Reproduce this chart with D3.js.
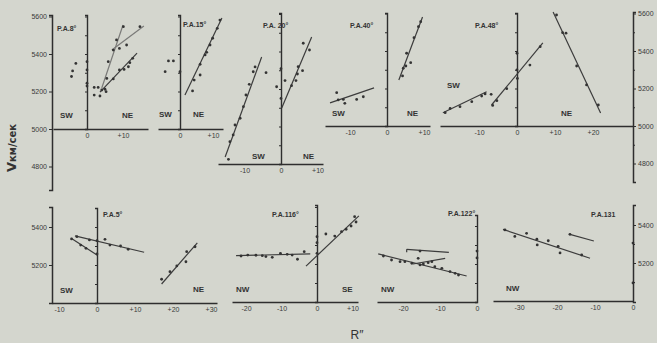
<!DOCTYPE html>
<html><head><meta charset="utf-8">
<script src="https://cdn.jsdelivr.net/npm/d3@7"></script>
<style>body{margin:0;background:#d4d6ce;} svg{display:block;font-family:"Liberation Sans",Arial,sans-serif;}</style>
</head><body><script>
// ---------- DATA (R in arcsec, V in km/s) ----------
const yTicksTop = [4800, 5000, 5200, 5400, 5600];
const yTicksBottom = [5200, 5400];

const pa8XTicks = [0, 10];
const pa8Points = [[-3.1,5350],[-4.0,5310],[-4.3,5280],[0,5359],[0,5315],[0,5244],[0,5229],[2.0,5222],[2.0,5181],[3.6,5176],[4.1,5208],[5.0,5212],[5.3,5199],[3.1,5222],[7.3,5267],[9.0,5315],[10.3,5318],[11.9,5354],[12.7,5377],[11.5,5332],[7.3,5421],[9.0,5430],[11.0,5448],[8.2,5475],[5.9,5359],[5.5,5270],[10.1,5546],[14.7,5546]];
const pa8Lines = [[4.1,5219,10.0,5555],[6.9,5421,15.8,5549],[3.6,5197,13.9,5405]];

const pa15XTicks = [0, 10];
const pa15Points = [[3.8,5203],[4.3,5261],[6.1,5288],[6.1,5345],[7.6,5395],[8.1,5409],[9.1,5448],[9.9,5484],[11.3,5537],[12.1,5581],[-4.5,5306],[-3.5,5363],[-2.0,5363],[0,5306]];
const pa15Lines = [[1.5,5181,12.7,5592]];

const pa20XTicks = [-10, 0, 10];
const pa20Points = [[-14.4,4825],[-14.0,4919],[-13.1,4955],[-12.6,5008],[-11.2,5044],[-10.3,5106],[-9.6,5168],[-8.7,5225],[-7.6,5292],[-7.1,5318],[-4.1,5287],[1.1,5245],[2.9,5218],[4.1,5245],[4.5,5280],[4.7,5319],[5.9,5298],[6.1,5444],[7.8,5408],[-1.2,5212],[0,5308],[0,5150]];
const pa20Lines = [[-15.3,4837,-5.3,5371],[0.2,5099,8.4,5477]];

const pa40XTicks = [-10, 0, 10];
const pa40Points = [[-13.6,5178],[-13.2,5139],[-11.8,5142],[-11.4,5121],[-8.2,5142],[-6.4,5156],[4.2,5267],[4.4,5308],[5.3,5388],[6.4,5338],[5.1,5320],[7.3,5471],[8.5,5530],[9.1,5556]];
const pa40Lines = [[-15.4,5123,-3.5,5203],[3.2,5245,9.6,5581]];

const pa48XTicks = [-10, 0, 10, 20];
const pa48Points = [[-18.9,5071],[-17.6,5094],[-15,5103],[-11.9,5130],[-9.3,5160],[-8.4,5171],[-6.8,5169],[-6.4,5110],[-5.3,5135],[-2.7,5199],[0.1,5254],[0,5299],[0,5388],[3.4,5325],[6.1,5423],[12.0,5498],[12.9,5495],[15.7,5320],[18.3,5219],[21.4,5112],[10.4,5592]];
const pa48Lines = [[-19.5,5071,-8.0,5183],[-6.7,5112,6.8,5443],[9.5,5608,22.0,5069]];

const pa5XTicks = [-10, 0, 10, 20, 30];
const pa5Points = [[-5.3,5349],[-2.0,5332],[0,5328],[2.1,5335],[3.4,5305],[6.2,5300],[8.2,5283],[-6.7,5337],[-4.3,5305],[-2.9,5288],[0,5258],[17.0,5125],[19.2,5165],[21.0,5195],[23.4,5217],[23.6,5270],[25.8,5296]];
const pa5Lines = [[-5.8,5353,12.4,5267],[-6.8,5341,0,5253],[17.0,5100,26.4,5317]];

const pa116XTicks = [-20, -10, 0, 10];
const pa116Points = [[-21.4,5242],[-19.5,5247],[-17.2,5246],[-15.4,5244],[-14.4,5239],[-12.6,5235],[-10.3,5256],[-8.4,5251],[-7.0,5247],[-5.5,5225],[-3.6,5265],[0,5256],[2.5,5358],[5.0,5347],[6.9,5370],[8.2,5383],[9.6,5400],[11.0,5421],[10.6,5449],[0,5344],[0,5312]];
const pa116Lines = [[-22.8,5244,-1.9,5253],[-3.1,5189,11.8,5453]];

const pa122XTicks = [-20, -10, 0];
const pa122Points = [[-25.3,5242],[-23.1,5221],[-20.8,5212],[-19.5,5212],[-17.6,5204],[-15.4,5195],[-14.5,5200],[-13.2,5207],[-12.2,5212],[-11.4,5186],[-9.5,5177],[-7.3,5160],[-5.9,5151],[-5.0,5142],[-15.4,5268],[-15.9,5230],[0,5268],[0,5232]];
const pa122Lines = [[-19.0,5277,-7.6,5261],[-19.0,5277,-19.0,5262],[-26.7,5253,-2.8,5137],[-17.3,5200,-8.6,5230]];

const pa131XTicks = [-30, -20, -10, 0];
const pa131Points = [[-33.7,5374],[-31.1,5340],[-28.0,5356],[-25.3,5325],[-25.2,5295],[-22.3,5317],[-19.7,5288],[-19.2,5253],[-13.5,5242],[-16.6,5351],[0,5305],[0,5095]];
const pa131Lines = [[-34.2,5377,-11.3,5225],[-16.6,5351,-10.3,5316]];

// ---------- LAYOUT ----------
const W = 657, H = 343;
const INK = "#2e2e2e", GREY = "#7a7a78", BG = "#d4d6ce";
const svg = d3.select("body").append("svg").attr("width", W).attr("height", H);
svg.append("rect").attr("width", W).attr("height", H).attr("fill", BG);

const TOP = 0.1875, BOT = 0.19;
const panels = [
  {pts: pa8Points, lines: pa8Lines, xt: pa8XTicks, title: "P.A.8°", s1: "SW", s2: "NE",
   L: {x0: 87, k: 3.6, xl: 53, xr: 148, y0: 129, ppu: TOP, base: 5000, zt: 15, tx: 57, ty: 31, p1: [60, 118], p2: [122, 118], grey: [0, 1]}},
  {pts: pa15Points, lines: pa15Lines, xt: pa15XTicks, title: "P.A.15°", s1: "SW", s2: "NE",
   L: {x0: 180, k: 3.3, xl: 158, xr: 223, y0: 129, ppu: TOP, base: 5000, zt: 15, tx: 183, ty: 27, p1: [159, 117], p2: [193, 117], grey: []}},
  {pts: pa20Points, lines: pa20Lines, xt: pa20XTicks, title: "P.A.  20°", s1: "SW", s2: "NE",
   L: {x0: 281, k: 3.65, xl: 218, xr: 323, y0: 126.5, ppu: TOP, base: 4800, zt: 13, tx: 263, ty: 28, p1: [252, 159], p2: [303, 159], grey: []}},
  {pts: pa40Points, lines: pa40Lines, xt: pa40XTicks, title: "P.A.40°", s1: "SW", s2: "NE",
   L: {x0: 387, k: 3.7, xl: 325, xr: 430, y0: 126, ppu: TOP, base: 5000, zt: 13, tx: 350, ty: 28, p1: [332, 116], p2: [407, 116], grey: []}},
  {pts: pa48Points, lines: pa48Lines, xt: pa48XTicks, title: "P.A.48°", s1: "SW", s2: "NE",
   L: {x0: 517, k: 3.8, xl: 440, xr: 633, y0: 126, ppu: TOP, base: 5000, zt: 13, tx: 475, ty: 28, p1: [447, 88], p2: [561, 116], grey: []}},
  {pts: pa5Points, lines: pa5Lines, xt: pa5XTicks, title: "P.A.5°", s1: "SW", s2: "NE",
   L: {x0: 97, k: 3.8, xl: 52, xr: 217, y0: 303, ppu: BOT, base: 5000, zt: 208, tx: 103, ty: 217, p1: [60, 293], p2: [193, 292], grey: []}},
  {pts: pa116Points, lines: pa116Lines, xt: pa116XTicks, title: "P.A.116°", s1: "NW", s2: "SE",
   L: {x0: 317, k: 3.55, xl: 232, xr: 358, y0: 302, ppu: BOT, base: 5000, zt: 205, tx: 272, ty: 217, p1: [236, 292], p2: [342, 292], grey: []}},
  {pts: pa122Points, lines: pa122Lines, xt: pa122XTicks, title: "P.A.122°", s1: "NW", s2: "",
   L: {x0: 477, k: 3.7, xl: 377, xr: 477, y0: 302, ppu: BOT, base: 5000, zt: 215, tx: 448, ty: 216, p1: [381, 292], p2: [0, 0], grey: []}},
  {pts: pa131Points, lines: pa131Lines, xt: pa131XTicks, title: "P.A.131", s1: "NW", s2: "",
   L: {x0: 633, k: 3.8, xl: 493, xr: 633, y0: 301, ppu: BOT, base: 5000, zt: null, tx: 591, ty: 217, p1: [506, 291], p2: [0, 0], grey: []}}
];

const fmt = d => d > 0 ? "+" + d : (d < 0 ? "-" + Math.abs(d) : "0");

function styleAxis(g, w) {
  g.select(".domain").attr("stroke", INK).attr("stroke-width", w);
  g.selectAll(".tick line").attr("stroke", INK).attr("stroke-width", 1);
  g.selectAll(".tick text").attr("fill", "#3a3a3a").attr("font-size", 7)
    .attr("font-family", "Liberation Sans, Arial, sans-serif");
}

panels.forEach(p => {
  const L = p.L;
  const g = svg.append("g");
  const x = d3.scaleLinear().domain([0, 10]).range([L.x0, L.x0 + 10 * L.k]);
  const y = d3.scaleLinear().domain([5000, 5200]).range([L.y0, L.y0 - 200 * L.ppu]);
  const yb = y(L.base);

  const xa = x.copy().domain([x.invert(L.xl), x.invert(L.xr)]).range([L.xl, L.xr]);
  const ax = g.append("g").attr("transform", `translate(0,${yb})`)
    .call(d3.axisBottom(xa).tickValues(p.xt).tickFormat(fmt).tickSize(0).tickPadding(4));
  styleAxis(ax, 1.6);

  if (L.zt !== null) {
    const vTop = y.invert(L.zt);
    const ya = y.copy().domain([L.base, vTop]).range([yb, L.zt]);
    const minor = d3.range(L.base + 100, vTop, 100);
    const az = g.append("g").attr("transform", `translate(${x(0)},0)`)
      .call(d3.axisLeft(ya).tickValues(minor).tickSize(2).tickFormat(""));
    styleAxis(az, 1.4);
  }

  g.selectAll("line.fit").data(p.lines).join("line").attr("class", "fit")
    .attr("x1", d => x(d[0])).attr("y1", d => y(d[1]))
    .attr("x2", d => x(d[2])).attr("y2", d => y(d[3]))
    .attr("stroke", (d, i) => L.grey.includes(i) ? GREY : "#3c3c3c")
    .attr("stroke-width", 1.2);

  g.selectAll("circle").data(p.pts).join("circle")
    .attr("cx", d => x(d[0])).attr("cy", d => y(d[1])).attr("r", 1.4)
    .attr("fill", "#333");

  g.append("text").attr("x", L.tx).attr("y", L.ty).text(p.title)
    .attr("font-size", 7).attr("fill", "#333").attr("font-weight", "bold");
  g.append("text").attr("x", L.p1[0]).attr("y", L.p1[1]).text(p.s1)
    .attr("font-size", 8).attr("fill", "#333").attr("font-weight", "bold");
  if (p.s2) g.append("text").attr("x", L.p2[0]).attr("y", L.p2[1]).text(p.s2)
    .attr("font-size", 8).attr("fill", "#333").attr("font-weight", "bold");
});

function sideAxis(xPos, y0, ppu, yTopPx, yBotPx, ticks, minorTicks, right) {
  const y = d3.scaleLinear().domain([5000, 5200]).range([y0, y0 - 200 * ppu]);
  const ya = y.copy().domain([y.invert(yBotPx), y.invert(yTopPx)]).range([yBotPx, yTopPx]);
  const gen = right ? d3.axisRight(ya) : d3.axisLeft(ya);
  const g = svg.append("g").attr("transform", `translate(${xPos},0)`)
    .call(gen.tickValues(ticks).tickSize(3).tickPadding(2).tickFormat(d3.format("d")));
  styleAxis(g, 1.5);
  if (minorTicks.length) {
    const gen2 = right ? d3.axisRight(ya) : d3.axisLeft(ya);
    const g2 = svg.append("g").attr("transform", `translate(${xPos},0)`)
      .call(gen2.tickValues(minorTicks).tickSize(2).tickFormat(""));
    g2.select(".domain").remove();
    g2.selectAll(".tick line").attr("stroke", INK);
  }
}
sideAxis(52, 129, TOP, 15, 190, yTicksTop, [], false);
sideAxis(633, 126, TOP, 12, 182, yTicksTop, [4900, 5100, 5300, 5500], true);
sideAxis(52, 303, BOT, 207, 303, yTicksBottom, [], false);
sideAxis(633, 301, BOT, 205, 302, yTicksBottom, [5100, 5300], true);

svg.append("text").attr("transform", "translate(16,148) rotate(-90)")
  .attr("text-anchor", "middle").attr("fill", "#333").attr("font-weight", "bold")
  .attr("font-family", "DejaVu Sans, sans-serif")
  .call(t => {
    t.append("tspan").attr("font-size", 13).text("V");
    t.append("tspan").attr("font-size", 10).text("км/сек");
  });
svg.append("text").attr("x", 357).attr("y", 339).attr("text-anchor", "middle")
  .attr("font-size", 12).attr("fill", "#333").text("R″");
</script></body></html>
